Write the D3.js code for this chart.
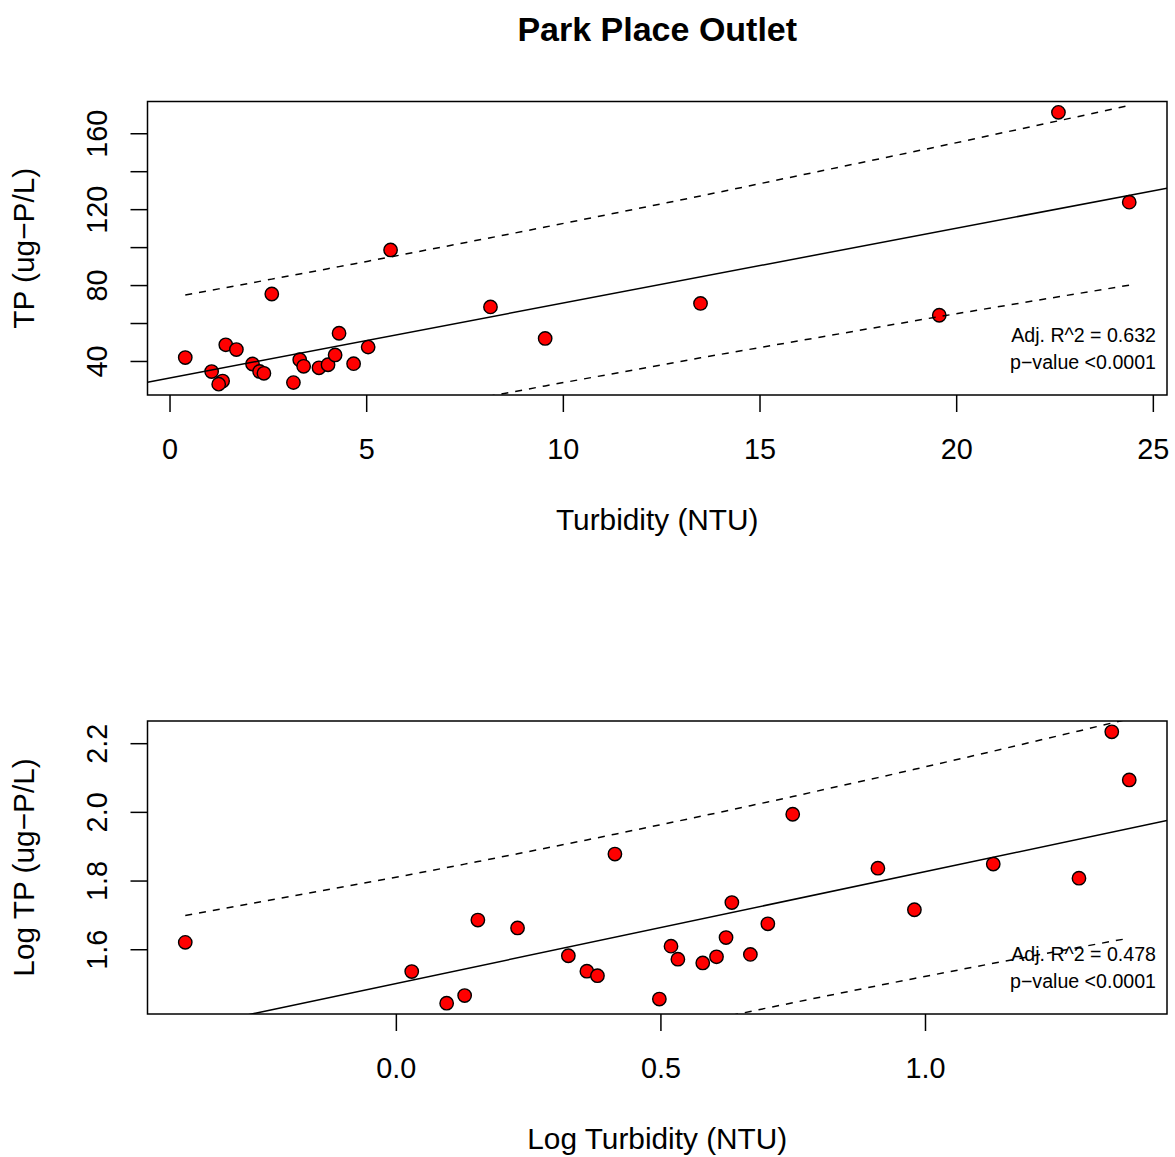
<!DOCTYPE html>
<html>
<head>
<meta charset="utf-8">
<script src="https://cdn.jsdelivr.net/npm/d3@7"></script>
<style>
  html, body { margin: 0; padding: 0; background: #fff; }
  svg { display: block; font-family: "Liberation Sans", Arial, Helvetica, sans-serif; }
</style>
</head>
<body>
<svg id="chart" width="1175" height="1157"></svg>
<script>
// Park Place Outlet: total phosphorus against turbidity, raw and log10 scale
const turbidity = [0.40, 1.07, 1.35, 1.25, 1.43, 1.70, 2.11, 2.29, 2.40, 2.60,
                   3.15, 3.31, 3.41, 3.80, 4.03, 4.21, 4.31, 4.68, 5.05, 5.62,
                   8.16, 9.55, 13.50, 22.60, 24.40, 19.57];
const tp = [41.8, 34.4, 29.4, 27.8, 48.5, 46.0, 38.4, 34.5, 33.5, 75.3,
            28.6, 40.7, 37.2, 36.4, 38.0, 43.2, 54.6, 38.6, 47.3, 98.5,
            68.5, 51.9, 70.3, 171.0, 123.7, 64.1];
const logTurbidity = [-0.398, 0.030, 0.130, 0.096, 0.155, 0.230, 0.326, 0.361, 0.381, 0.414,
                      0.498, 0.520, 0.533, 0.580, 0.606, 0.624, 0.635, 0.670, 0.703, 0.750,
                      0.911, 0.980, 1.129, 1.353, 1.386, 1.291];
const logTp = [1.620, 1.535, 1.465, 1.443, 1.685, 1.662, 1.581, 1.536, 1.523, 1.877,
               1.455, 1.609, 1.571, 1.560, 1.578, 1.634, 1.736, 1.585, 1.674, 1.993,
               1.836, 1.715, 1.848, 2.233, 2.093, 1.807];

const turbTicks = [0, 5, 10, 15, 20, 25];
const tpTicks = [40, 60, 80, 100, 120, 140, 160];
const tpTickLabels = [40, 80, 120, 160];
const logTurbTicks = [0.0, 0.5, 1.0];
const logTpTicks = [1.6, 1.8, 2.0, 2.2];

const fitLabels = [["Adj. R^2 = 0.632", "p\u2212value <0.0001"],
                   ["Adj. R^2 = 0.478", "p\u2212value <0.0001"]];

const panels = [
  { xs: turbidity, ys: tp, xTicks: turbTicks, yTicks: tpTicks, yLabels: tpTickLabels,
    xFmt: d3.format("d"), yFmt: d3.format("d"),
    xTitle: "Turbidity (NTU)", yTitle: "TP (ug\u2212P/L)", stats: fitLabels[0],
    top: 101.5, bottom: 395 },
  { xs: logTurbidity, ys: logTp, xTicks: logTurbTicks, yTicks: logTpTicks, yLabels: logTpTicks,
    xFmt: d3.format(".1f"), yFmt: d3.format(".1f"),
    xTitle: "Log Turbidity (NTU)", yTitle: "Log TP (ug\u2212P/L)", stats: fitLabels[1],
    top: 721, bottom: 1014 }
];

const left = 147.5, right = 1167;
const TICK_FONT = 28.8;     // tick label size
const TITLE_FONT = 29.8;    // axis title size
const LW = 1.5;             // line width
const T975 = 2.063899;      // t quantile, 0.975 with 24 df

const svg = d3.select("#chart");

svg.append("text")
  .attr("x", (left + right) / 2).attr("y", 41)
  .attr("text-anchor", "middle")
  .attr("font-size", 34).attr("font-weight", "bold")
  .text("Park Place Outlet");

// extended range, 4% padding on each side
function padded(vals) {
  const [lo, hi] = d3.extent(vals);
  const r = hi - lo;
  return [lo - 0.04 * r, hi + 0.04 * r];
}

// ordinary least squares with 95% prediction interval
function linearFit(xs, ys) {
  const n = xs.length;
  const mx = d3.mean(xs), my = d3.mean(ys);
  let sxx = 0, sxy = 0;
  for (let i = 0; i < n; i++) {
    sxx += (xs[i] - mx) ** 2;
    sxy += (xs[i] - mx) * (ys[i] - my);
  }
  const b = sxy / sxx, a = my - b * mx;
  let sse = 0;
  for (let i = 0; i < n; i++) sse += (ys[i] - a - b * xs[i]) ** 2;
  const s = Math.sqrt(sse / (n - 2));
  return {
    predict: x => a + b * x,
    band: x => T975 * s * Math.sqrt(1 + 1 / n + (x - mx) ** 2 / sxx)
  };
}

panels.forEach((p, idx) => {
  const x = d3.scaleLinear().domain(padded(p.xs)).range([left, right]);
  const y = d3.scaleLinear().domain(padded(p.ys)).range([p.bottom, p.top]);
  const g = svg.append("g");

  const clipId = "clip" + idx;
  svg.append("clipPath").attr("id", clipId)
    .append("rect")
    .attr("x", left).attr("y", p.top)
    .attr("width", right - left).attr("height", p.bottom - p.top);

  // x axis
  const xa = g.append("g").attr("transform", `translate(0,${p.bottom})`)
    .call(d3.axisBottom(x).tickValues(p.xTicks).tickSize(17).tickFormat(p.xFmt));
  xa.select(".domain").remove();
  xa.selectAll("line").attr("stroke", "#000").attr("stroke-width", LW);
  xa.selectAll("text").attr("y", 64).attr("dy", null)
    .attr("font-size", TICK_FONT).attr("fill", "#000")
    .attr("font-family", "'Liberation Sans', Arial, sans-serif");

  // y axis
  const labelSet = new Set(p.yLabels);
  const ya = g.append("g").attr("transform", `translate(${left},0)`)
    .call(d3.axisLeft(y).tickValues(p.yTicks).tickSize(17)
      .tickFormat(d => labelSet.has(d) ? p.yFmt(d) : ""));
  ya.select(".domain").remove();
  ya.selectAll("line").attr("stroke", "#000").attr("stroke-width", LW);
  ya.selectAll("text").attr("x", 0).attr("dy", null)
    .attr("transform", "translate(-41,0) rotate(-90)")
    .attr("text-anchor", "middle")
    .attr("font-size", TICK_FONT).attr("fill", "#000")
    .attr("font-family", "'Liberation Sans', Arial, sans-serif");

  // axis titles
  g.append("text")
    .attr("x", (left + right) / 2).attr("y", p.bottom + 135)
    .attr("text-anchor", "middle").attr("font-size", TITLE_FONT)
    .text(p.xTitle);
  g.append("text")
    .attr("transform", `translate(33.5,${(p.top + p.bottom) / 2}) rotate(-90)`)
    .attr("text-anchor", "middle").attr("font-size", TITLE_FONT)
    .text(p.yTitle);

  // points
  const pts = p.xs.map((v, i) => [v, p.ys[i]]);
  g.append("g").selectAll("circle").data(pts).join("circle")
    .attr("cx", d => x(d[0])).attr("cy", d => y(d[1]))
    .attr("r", 6.7)
    .attr("fill", "#ff0000").attr("stroke", "#000").attr("stroke-width", 1.4);

  // regression line and prediction interval
  const f = linearFit(p.xs, p.ys);
  const lines = g.append("g").attr("clip-path", `url(#${clipId})`)
    .attr("fill", "none").attr("stroke", "#000").attr("stroke-width", LW);
  const [x0, x1] = x.domain();
  lines.append("line")
    .attr("x1", x(x0)).attr("y1", y(f.predict(x0)))
    .attr("x2", x(x1)).attr("y2", y(f.predict(x1)));

  const sorted = p.xs.slice().sort(d3.ascending);
  const upper = d3.line().x(d => x(d)).y(d => y(f.predict(d) + f.band(d)));
  const lower = d3.line().x(d => x(d)).y(d => y(f.predict(d) - f.band(d)));
  lines.append("path").attr("d", upper(sorted)).attr("stroke-dasharray", "7,7");
  lines.append("path").attr("d", lower(sorted)).attr("stroke-dasharray", "7,7");

  // fit statistics
  p.stats.forEach((s, i) => {
    g.append("text")
      .attr("x", 1156).attr("y", p.bottom - 53 + i * 26.6)
      .attr("text-anchor", "end").attr("font-size", 19.6)
      .text(s);
  });

  // plot frame
  g.append("rect")
    .attr("x", left).attr("y", p.top)
    .attr("width", right - left).attr("height", p.bottom - p.top)
    .attr("fill", "none").attr("stroke", "#000").attr("stroke-width", LW);
});
</script>
</body>
</html>
